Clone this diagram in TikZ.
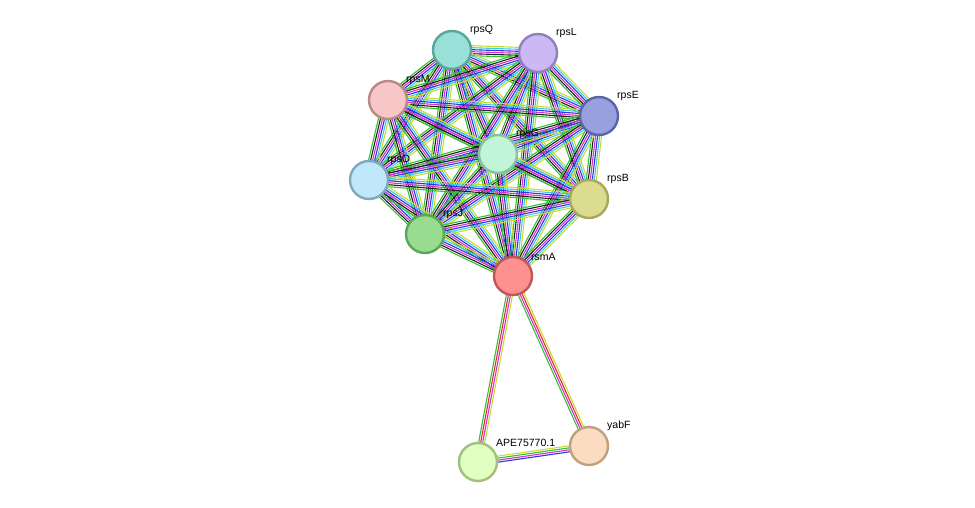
\documentclass[tikz,border=0pt]{standalone}
\usepackage{fontspec}
\setmainfont{Liberation Sans}
\usetikzlibrary{calc}
\pgfdeclarelayer{bg}\pgfsetlayers{bg,main}
\definecolor{eg}{HTML}{33C033}\definecolor{em}{HTML}{D033D0}\definecolor{eb}{HTML}{3333E0}
\definecolor{ec}{HTML}{40C8E8}\definecolor{ey}{HTML}{C8DC30}\definecolor{er}{HTML}{E03030}\definecolor{ek}{HTML}{202020}
\def\full{eg/-5,ek/-3,em/-1,eb/1,ec/3,ey/5}
\newcommand\bundle[3]{\foreach \c/\o in #3{\draw[\c,line width=1.1pt] ($(#1)!\o pt!90:(#2)$) -- ($(#2)!\o pt!-90:(#1)$);}}
\tikzset{prot/.style={circle,minimum size=38pt,inner sep=0,line width=2.4pt},
 lab/.style={font=\fontsize{10.5}{12}\selectfont,inner sep=0}}
\begin{document}
\begin{tikzpicture}[x=1pt,y=-1pt]
\useasboundingbox (0,0) rectangle (975,508);
\node[prot,fill={rgb,255:red,152;green,224;blue,216},draw={rgb,255:red,90;green,165;blue,156}] (rpsQ) at (452,50) {};
\node[prot,fill={rgb,255:red,203;green,184;blue,245},draw={rgb,255:red,144;green,128;blue,192}] (rpsL) at (538,53) {};
\node[prot,fill={rgb,255:red,247;green,198;blue,198},draw={rgb,255:red,187;green,136;blue,136}] (rpsM) at (388,100) {};
\node[prot,fill={rgb,255:red,152;green,160;blue,224},draw={rgb,255:red,90;green,100;blue,166}] (rpsE) at (599,116) {};
\node[prot,fill={rgb,255:red,192;green,245;blue,216},draw={rgb,255:red,136;green,192;blue,160}] (rpsG) at (498,154) {};
\node[prot,fill={rgb,255:red,192;green,232;blue,250},draw={rgb,255:red,128;green,168;blue,192}] (rpsO) at (369,180) {};
\node[prot,fill={rgb,255:red,220;green,220;blue,144},draw={rgb,255:red,168;green,168;blue,88}] (rpsB) at (589,199) {};
\node[prot,fill={rgb,255:red,152;green,220;blue,144},draw={rgb,255:red,90;green,165;blue,90}] (rpsJ) at (425,234) {};
\node[prot,fill={rgb,255:red,255;green,144;blue,144},draw={rgb,255:red,192;green,88;blue,88}] (rsmA) at (513,276) {};
\node[prot,fill={rgb,255:red,224;green,255;blue,192},draw={rgb,255:red,160;green,192;blue,128}] (ape) at (478,462) {};
\node[prot,fill={rgb,255:red,252;green,220;blue,192},draw={rgb,255:red,192;green,160;blue,128}] (yabF) at (589,446) {};
\begin{pgfonlayer}{bg}
\foreach \a/\b in {rpsQ/rpsL,rpsQ/rpsM,rpsQ/rpsE,rpsQ/rpsG,rpsQ/rpsO,rpsQ/rpsB,rpsQ/rpsJ,rpsQ/rsmA,
 rpsL/rpsM,rpsL/rpsE,rpsL/rpsG,rpsL/rpsO,rpsL/rpsB,rpsL/rpsJ,rpsL/rsmA,
 rpsM/rpsE,rpsM/rpsG,rpsM/rpsO,rpsM/rpsB,rpsM/rpsJ,rpsM/rsmA,
 rpsE/rpsG,rpsE/rpsO,rpsE/rpsB,rpsE/rpsJ,rpsE/rsmA,
 rpsG/rpsO,rpsG/rpsB,rpsG/rpsJ,rpsG/rsmA,
 rpsO/rpsB,rpsO/rpsJ,rpsO/rsmA,rpsB/rpsJ,rpsB/rsmA,rpsJ/rsmA}{\bundle{\a}{\b}{\full}}
\bundle{rsmA}{ape}{{eg/-3,er/-1,em/1,ey/3}}
\bundle{rsmA}{yabF}{{eg/-3,em/-1,er/1,ey/3}}
\bundle{ape}{yabF}{{eb/-3,em/-1,eg/1,ey/3}}
\end{pgfonlayer}
\node[lab,anchor=south west] (lQ) at (470,35) {rpsQ};
\node[lab,anchor=south west] (lL) at (556,38) {rpsL};
\node[lab,anchor=south west] (lM) at (406,85) {rpsM};
\node[lab,anchor=south west] (lE) at (617,101) {rpsE};
\node[lab,anchor=south west] (lG) at (516,139) {rpsG};
\node[lab,anchor=south west] (lO) at (387,165) {rpsO};
\node[lab,anchor=south west] (lB) at (607,184) {rpsB};
\node[lab,anchor=south west] (lJ) at (443,219) {rpsJ};
\node[lab,anchor=south west] (lA) at (531,261) {rsmA};
\node[lab,anchor=south west] (lP) at (496,447) {APE75770.1};
\node[lab,anchor=south west] (lY) at (607,431) {yabF};
\end{tikzpicture}
\end{document}
